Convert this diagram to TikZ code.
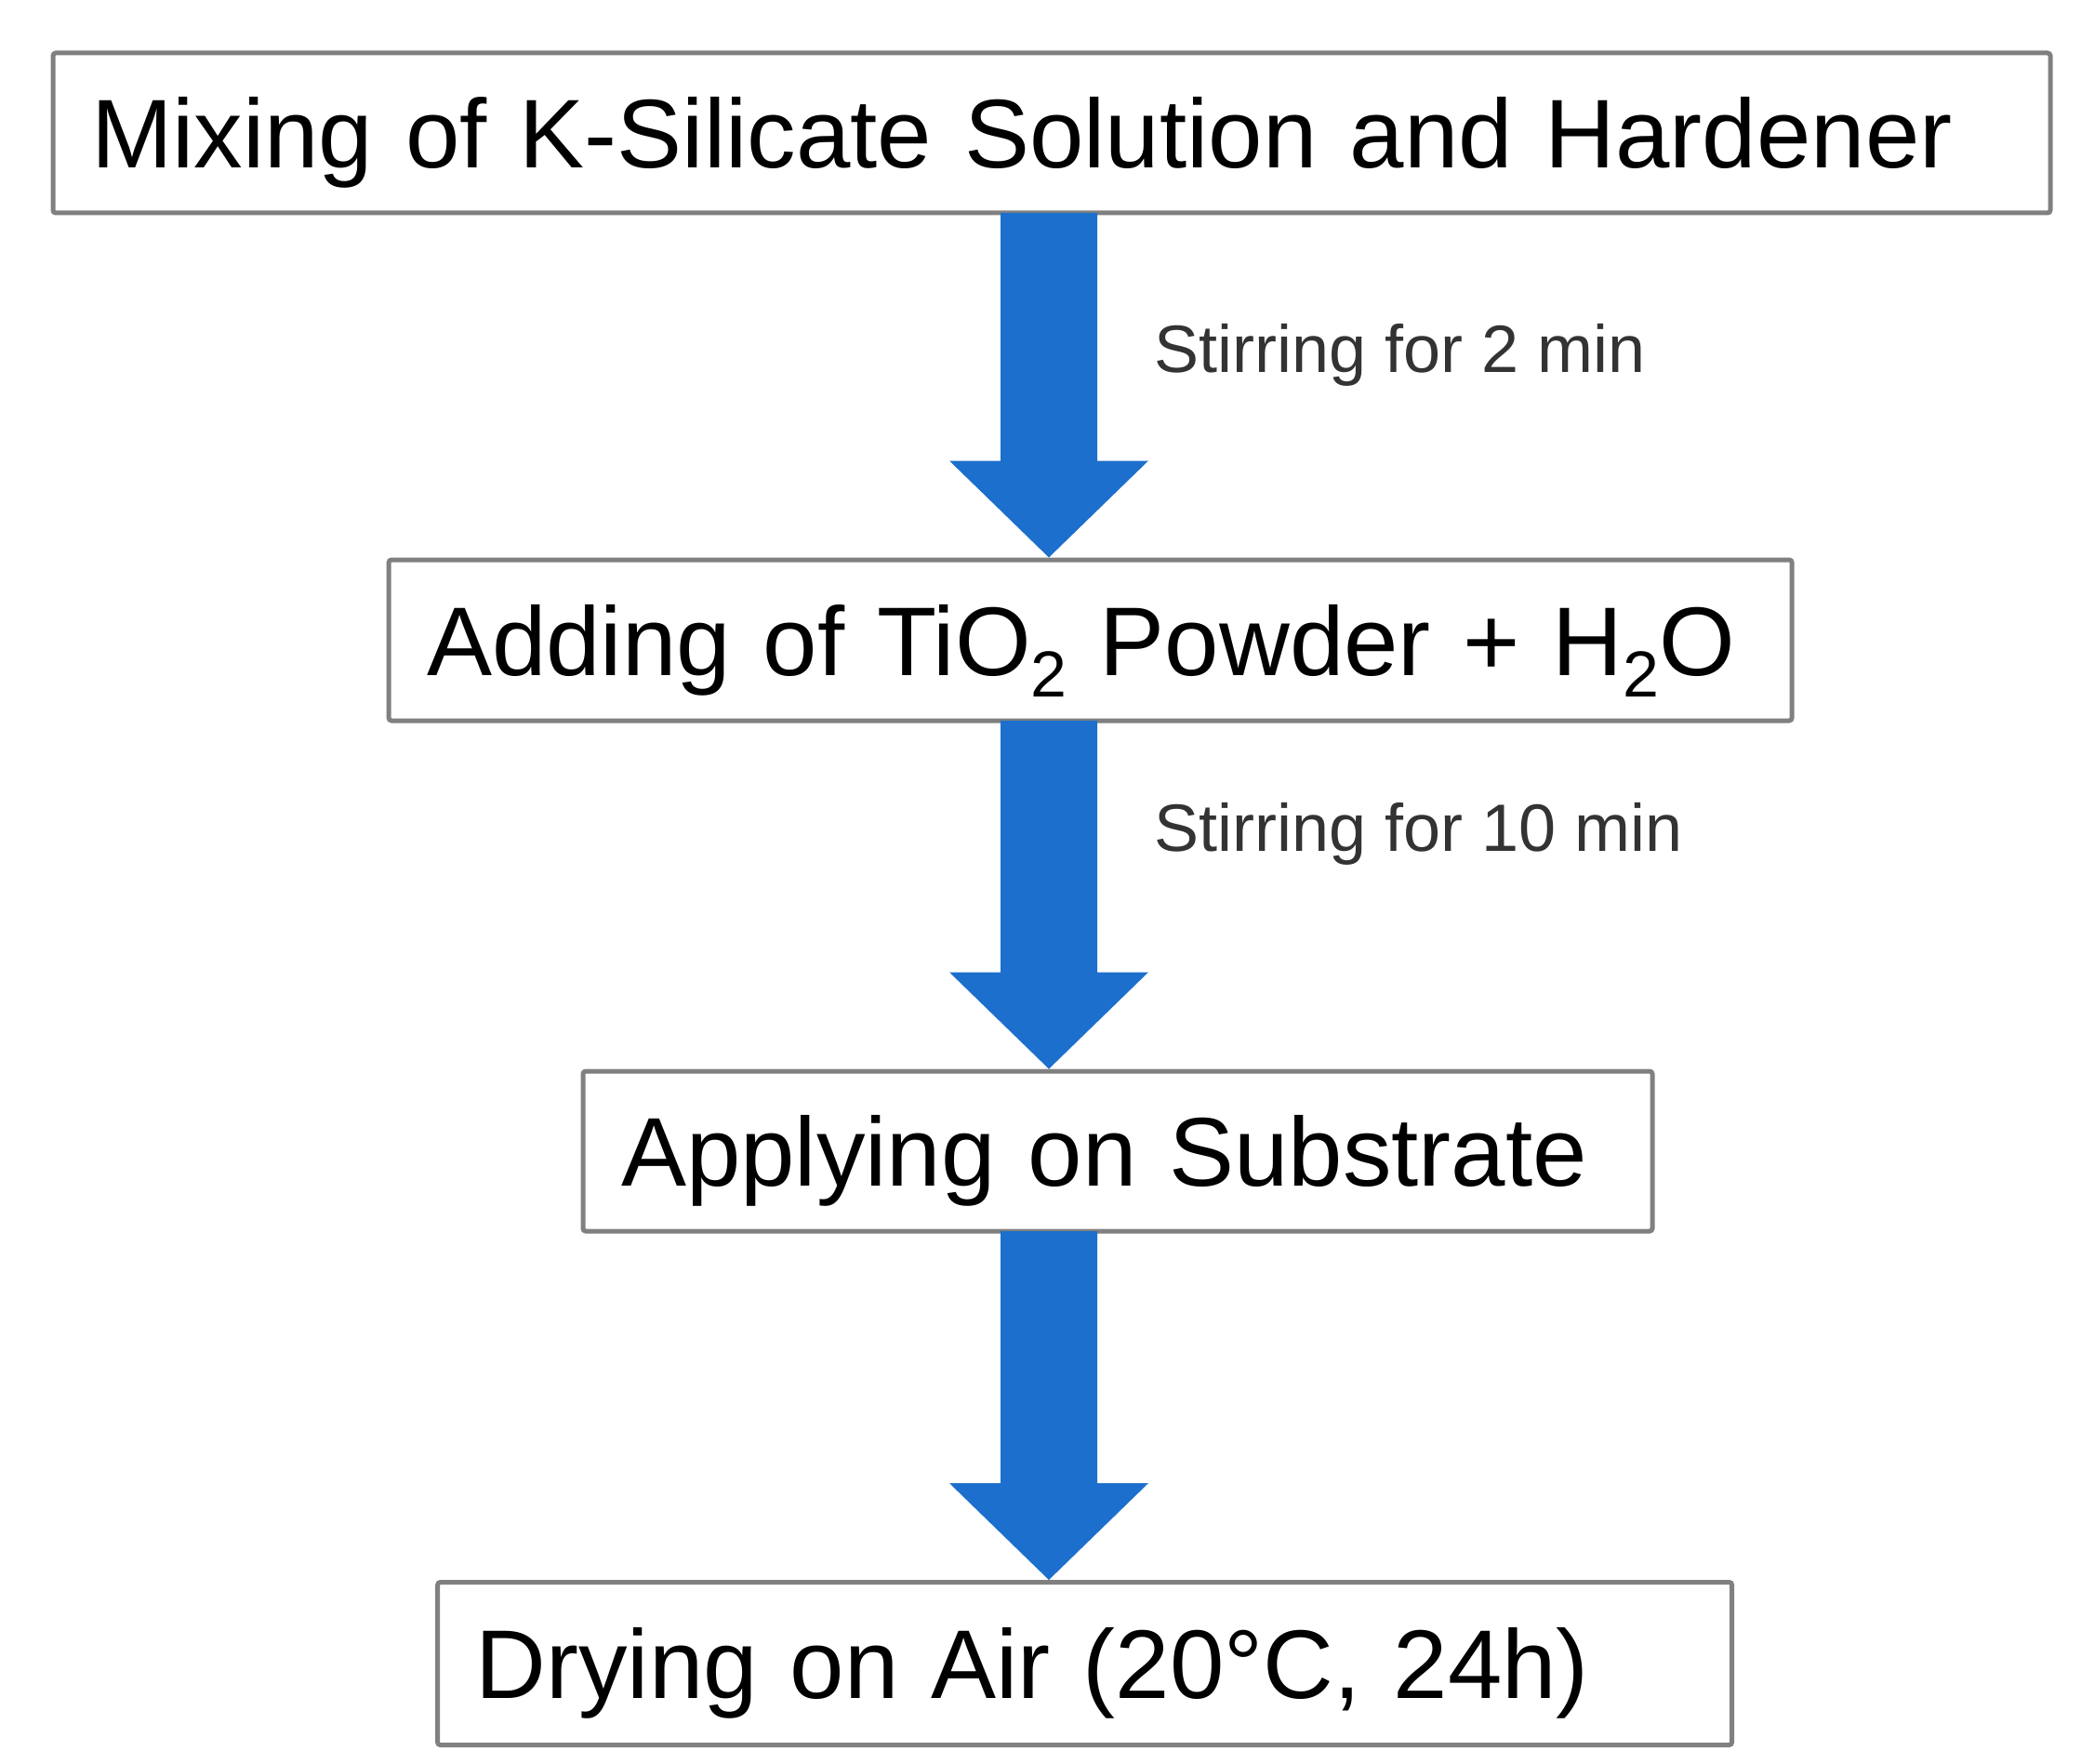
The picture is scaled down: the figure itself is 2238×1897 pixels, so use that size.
\documentclass[tikz,border=0pt]{standalone}
\usepackage{fontspec}
\setmainfont{Liberation Sans}
\usetikzlibrary{calc}
\definecolor{arrowblue}{RGB}{28,111,204}
\definecolor{boxgray}{RGB}{128,128,128}
\newcommand{\subtwo}{\raisebox{-0.22em}{\fontsize{70}{80}\selectfont 2}}
\begin{document}
\begin{tikzpicture}[x=1pt,y=-1pt,
  procbox/.style={draw=boxgray, line width=5pt, rounded corners=3pt,
    inner xsep=41pt, inner ysep=0pt, text height=75pt, text depth=0pt,
    align=left, font=\fontsize{105}{126}\selectfont},
  steplabel/.style={anchor=base west, inner sep=0pt, text=black!80,
    font=\fontsize{72}{86}\selectfont},
  flowarrow/.style={fill=arrowblue}]
\useasboundingbox (0,0) rectangle (2238,1897);
\node[procbox, minimum height=172pt, text width=2066pt] (b1) at (1131,143)
  {\mbox{Mixing of K-Silicate Solution and Hardener}};
\node[procbox, minimum height=173pt, text width=1427pt] (b2) at (1172.6,688.5)
  {\mbox{Adding of TiO\subtwo{} Powder + H\subtwo{}O}};
\node[procbox, minimum height=172pt, text width=1068pt] (b3) at (1202,1238)
  {\mbox{Applying on Substrate}};
\node[procbox, minimum height=175pt, text width=1310pt] (b4) at (1166.6,1789)
  {\mbox{Drying on Air (20°C, 24h)}};
\coordinate (axis) at (1128,0);
\foreach \a/\b in {b1/b2,b2/b3,b3/b4}{
  \fill[flowarrow] ($(\a.south -| axis)+(-52,-2.5)$) -- ($(\a.south -| axis)+(52,-2.5)$)
    -- ($(\b.north -| axis)+(52,-104)$) -- ($(\b.north -| axis)+(107,-104)$)
    -- (\b.north -| axis) -- ($(\b.north -| axis)+(-107,-104)$)
    -- ($(\b.north -| axis)+(-52,-104)$) -- cycle;
}
\node[steplabel] (l1) at (1241,400) {Stirring for 2 min};
\node[steplabel] (l2) at (1241,915) {Stirring for 10 min};
\end{tikzpicture}
\end{document}
